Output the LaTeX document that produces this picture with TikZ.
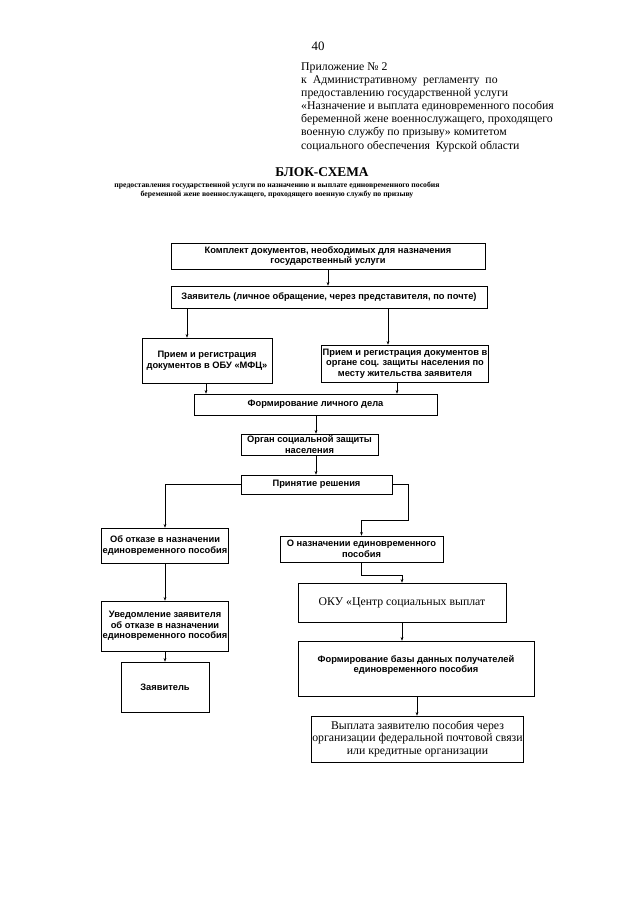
\documentclass[tikz,border=0pt]{standalone}
\usepackage{fontspec}
\setmainfont{Liberation Serif}
\setsansfont{Liberation Sans}
\usetikzlibrary{arrows.meta}
\newcommand\pxu{0.3282mm}

\begin{document}
\begin{tikzpicture}[x=\pxu, y=-\pxu,
    boxfont/.style={font=\sffamily\bfseries\fontsize{8.7}{9.9}\selectfont},
    box/.style={draw, line width=0.5pt, align=center, inner sep=1pt, boxfont},
    serifbox/.style={box, font=\rmfamily\fontsize{11}{11.7}\selectfont},
    size/.style 2 args={minimum width=#1*\pxu, minimum height=#2*\pxu},
    arr/.style={-{Stealth[length=3.5pt,width=2.6pt]}, line width=0.5pt}]
    \useasboundingbox[fill=white] (0,0) rectangle (640,905);
    % header
    \node[font=\fontsize{12}{14}\selectfont] (page) at (318,46) {40};
    \node[anchor=north west, align=left, inner sep=0pt,
        font=\fontsize{11}{12.3}\selectfont] (prilozh) at (301,62)
        {Приложение № 2\\
         к\ \ Административному\ \ регламенту\ \ по\\
         предоставлению государственной услуги\\
         «Назначение и выплата единовременного пособия\\
         беременной жене военнослужащего, проходящего\\
         военную службу по призыву» комитетом\\
         социального обеспечения\ \ Курской области};
    \node[font=\bfseries\fontsize{12.5}{14}\selectfont] (title) at (322,172) {БЛОК-СХЕМА};
    \node[align=center, font=\bfseries\fontsize{7.2}{8.6}\selectfont] (subtitle) at (277,190)
        {предоставления государственной услуги по назначению и выплате единовременного пособия\\
         беременной жене военнослужащего, проходящего военную службу по призыву};
    % boxes
    \node[box, size={314}{26}] (komplekt) at (328,256)
        {Комплект документов, необходимых для назначения\\государственный услуги};
    \node[box, size={316}{22}] (zayav) at (329,297)
        {Заявитель (личное обращение, через представителя, по почте)};
    \node[box, size={130}{45}] (mfc) at (207,360.5)
        {Прием и регистрация\\документов в ОБУ «МФЦ»};
    \node[box, size={166}{37}] (organ) at (405,363.5)
        {Прием и регистрация документов в\\органе соц. защиты населения по\\месту жительства заявителя};
    \node[box, size={243}{21}] (delo) at (315.5,404.5) {Формирование личного дела};
    \node[box, size={137}{21}] (szn) at (309.5,444.5) {Орган социальной защиты\\населения};
    \node[box, size={151}{19}] (reshenie) at (316.5,484.5) {Принятие решения};
    \node[box, size={126}{35}] (otkaz) at (165,545.5) {Об отказе в назначении\\единовременного пособия};
    \node[box, size={126}{50}] (uved) at (165,626)
        {Уведомление заявителя\\об отказе в назначении\\единовременного пособия};
    \node[box, size={88}{50}] (zayav2) at (165,687) {Заявитель};
    \node[box, size={163}{26}] (naznach) at (361.5,549) {О назначении единовременного\\пособия};
    \node[serifbox, size={208}{39}] (oku) at (402,602.5) {ОКУ «Центр социальных выплат};
    \node[box, size={236}{55}, label={[boxfont, align=center, anchor=north, yshift=-10pt]
        north:Формирование базы данных получателей\\единовременного пособия}]
        (baza) at (416,668.5) {};
    \node[serifbox, size={209}{46}] (vyplata) at (417.5,739)
        {Выплата заявителю пособия через\\организации федеральной почтовой связи\\или кредитные организации};
    % columns and bends
    \coordinate (c1) at (328,0);
    \coordinate (c2) at (187,0);
    \coordinate (c3) at (388,0);
    \coordinate (c4) at (206,0);
    \coordinate (c5) at (397,0);
    \coordinate (c6) at (316,0);
    \coordinate (c7) at (417,0);
    \coordinate (r1) at (408,520);
    \coordinate (r2) at (402,575);
    % connectors
    \draw[arr] (komplekt.south -| c1) -- (zayav.north -| c1);
    \draw[arr] (zayav.south -| c2) -- (mfc.north -| c2);
    \draw[arr] (zayav.south -| c3) -- (organ.north -| c3);
    \draw[arr] (mfc.south -| c4) -- (delo.north -| c4);
    \draw[arr] (organ.south -| c5) -- (delo.north -| c5);
    \draw[arr] (delo.south -| c6) -- (szn.north -| c6);
    \draw[arr] (szn.south -| c6) -- (reshenie.north -| c6);
    \draw[arr] (reshenie.west) -| (otkaz.north);
    \draw[arr] (otkaz) -- (uved);
    \draw[arr] (uved) -- (zayav2);
    \draw[arr] (reshenie.east) -| (r1) -| (naznach.north);
    \draw[arr] (naznach.south) |- (r2) -- (oku.north);
    \draw[arr] (oku.south -| r2) -- (baza.north -| r2);
    \draw[arr] (baza.south -| c7) -- (vyplata.north -| c7);
\end{tikzpicture}
\end{document}
